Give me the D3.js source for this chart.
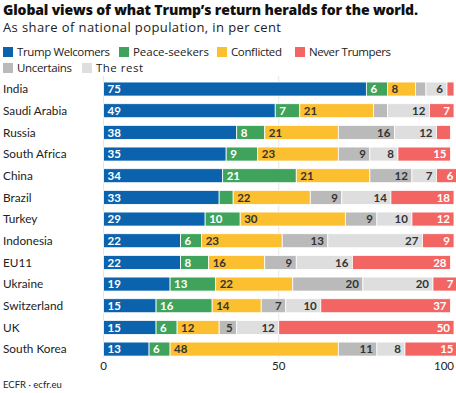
<!DOCTYPE html>
<html><head><meta charset="utf-8">
<script src="https://cdn.jsdelivr.net/npm/d3@7"></script>
<style>
body{margin:0;background:#fff;}
svg{display:block;font-family:Lato,"Open Sans",sans-serif;}
.os{font-family:"Open Sans",Lato,sans-serif;}
</style></head>
<body><svg id="c" width="456" height="393"></svg>
<script>
const countries = ["India","Saudi Arabia","Russia","South Africa","China","Brazil","Turkey","Indonesia","EU11","Ukraine","Switzerland","UK","South Korea"];
const seriesNames = ["Trump Welcomers","Peace-seekers","Conflicted","Uncertains","The rest","Never Trumpers"];
const trumpWelcomers = [75,49,38,35,34,33,29,22,22,19,15,15,13];
const peaceSeekers   = [6,7,8,9,21,4,10,6,8,13,16,6,6];
const conflicted     = [8,21,21,23,21,22,30,23,16,22,14,12,48];
const uncertains     = [3,4,16,9,12,9,9,13,9,20,7,5,11];
const theRest        = [6,12,12,8,7,14,10,27,16,20,10,12,8];
const neverTrumpers  = [2,7,4,15,6,18,12,9,28,7,37,50,15];
const xTicks = [0,50,100];
const legendOrder = ["Trump Welcomers","Peace-seekers","Conflicted","Never Trumpers","Uncertains","The rest"];

const colors = {"Trump Welcomers":"#0b62ad","Peace-seekers":"#3fa35b","Conflicted":"#fcbf30","Uncertains":"#bababa","The rest":"#dedede","Never Trumpers":"#f26563"};
const textColors = {"Trump Welcomers":"#fff","Peace-seekers":"#fff","Conflicted":"#333","Uncertains":"#333","The rest":"#333","Never Trumpers":"#fff"};
const anchors = {"Trump Welcomers":"start","Peace-seekers":"start","Conflicted":"start","Uncertains":"end","The rest":"end","Never Trumpers":"end"};
const allSeries = [trumpWelcomers,peaceSeekers,conflicted,uncertains,theRest,neverTrumpers];

const rows = countries.map((c,i)=>{const o={country:c}; seriesNames.forEach((s,j)=>o[s]=allSeries[j][i]); return o;});
const stacked = d3.stack().keys(seriesNames)(rows);

const svg = d3.select("#c");
const x = d3.scaleLinear().domain([0,100]).range([103.5,454]);
const y = d3.scaleBand().domain(countries).range([78.2,359.9]).paddingInner(0.354).paddingOuter(0.177);

svg.append("text").attr("class","os").attr("x",3).attr("y",15).attr("font-size",14).attr("font-weight",800).attr("fill","#111")
  .attr("textLength",415).attr("lengthAdjust","spacing")
  .text("Global views of what Trump’s return heralds for the world.");
svg.append("text").attr("class","os").attr("x",3).attr("y",32).attr("font-size",13).attr("fill","#222")
  .attr("textLength",278).attr("lengthAdjust","spacing")
  .text("As share of national population, in per cent");

// legend
const legPos = [[3,52,93],[119,52,76],[217,52,51],[295,52,82],[3,68,55],[82,68,47]];
legendOrder.forEach((s,i)=>{
  const [lx,ly,w]=legPos[i];
  svg.append("rect").attr("x",lx).attr("y",ly-5).attr("width",10).attr("height",10).attr("fill",colors[s]);
  svg.append("text").attr("class","os").attr("x",lx+14).attr("y",ly).attr("dy","0.35em").attr("font-size",11.5).attr("fill","#222")
    .attr("textLength",w).attr("lengthAdjust","spacing").text(s);
});

// gridlines
svg.append("g").selectAll("line").data(xTicks.slice(0,2)).join("line")
  .attr("x1",d=>x(d)).attr("x2",d=>x(d)).attr("y1",76).attr("y2",358)
  .attr("stroke","#e6e6e6").attr("stroke-width",1);

// bars
const g = svg.append("g");
stacked.forEach(layer=>{
  const key = layer.key;
  layer.forEach((d,i)=>{
    const c = countries[i];
    g.append("rect").attr("x",x(d[0])).attr("y",y(c)).attr("width",Math.max(0,x(d[1])-x(d[0]))).attr("height",y.bandwidth())
      .attr("fill",colors[key]).attr("stroke","#fff").attr("stroke-width",0.8);
    const v = d[1]-d[0];
    if (v>=5){
      const start = anchors[key]==="start";
      g.append("text").attr("x",start? x(d[0])+4 : x(d[1])-4).attr("y",y(c)+y.bandwidth()/2).attr("dy","0.36em")
        .attr("text-anchor",anchors[key]).attr("font-size",11.5).attr("font-weight",700).attr("fill",textColors[key]).text(v);
    }
  });
});

// country labels
svg.append("g").selectAll("text").data(countries).join("text")
  .attr("x",3).attr("y",d=>y(d)+y.bandwidth()/2).attr("dy","0.36em").attr("font-size",11.8).attr("fill","#222").text(d=>d);

// axis ticks
svg.append("g").selectAll("text").data(xTicks).join("text")
  .attr("x",d=>x(d)).attr("y",370).attr("text-anchor",d=>d===100?"end":"middle")
  .attr("font-size",11.5).attr("fill","#222").text(d=>d);

svg.append("text").attr("x",3).attr("y",388).attr("font-size",9.5).attr("fill","#222").text("ECFR · ecfr.eu");
</script></body></html>
